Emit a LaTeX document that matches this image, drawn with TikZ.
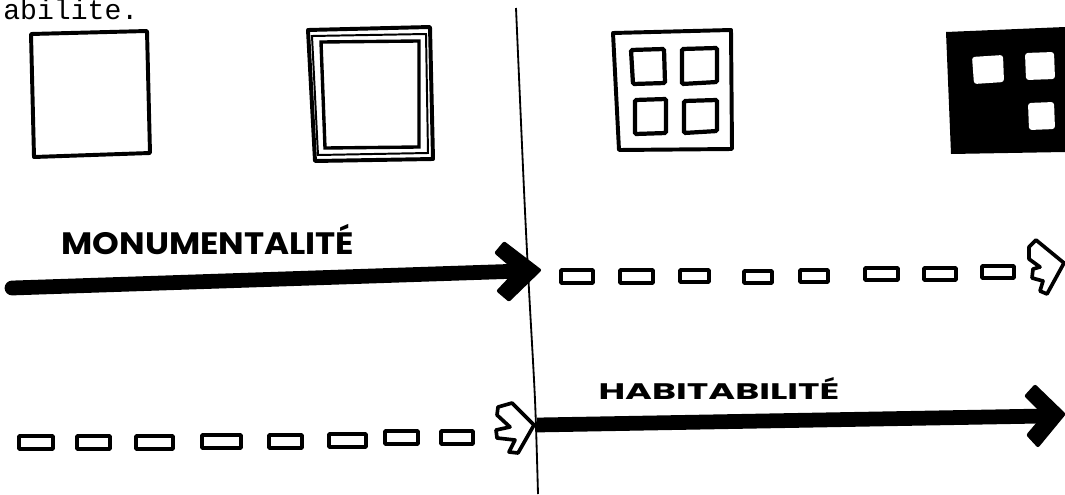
\documentclass[tikz,border=0pt]{standalone}
\usepackage{fontspec}
\usepackage{graphicx}
\newfontfamily\hand{Poppins}
\newfontfamily\typed{Liberation Mono}
\usetikzlibrary{positioning}

\begin{document}
\begin{tikzpicture}[
    x=0.025cm, y=-0.025cm,
    frame/.style={draw, line width=2.8pt, line join=round},
    pane/.style={draw, line width=3pt, rounded corners=1pt},
    divider/.style={draw, line width=1.3pt},
    shaft/.style={line width=10.5pt},
    barb/.style={fill, rounded corners=1.5pt},
    dashbox/.style={draw, line width=2.6pt, rounded corners=0.5pt},
    hollow/.style={draw, line width=2.6pt, line join=round},
    word/.style={anchor=base, inner sep=0pt}
]
    \useasboundingbox (0,0) rectangle (1065,494);

    \node[anchor=base west, inner sep=0pt, font={\typed\fontsize{20}{20}\selectfont}] (cap) at (3,19) {abilite.};

    % windows
    \draw[frame] (31,34) -- (147,31) -- (150,153) -- (34,157) -- cycle;

    \draw[frame] (308,30) -- (430,27) -- (433,159) -- (315,161) -- cycle;
    \draw[line width=1.4pt] (312,36) -- (426,34) -- (428,153) -- (318,155) -- cycle;
    \draw[line width=2.4pt] (321,42) -- (419,41) -- (419,147) -- (325,148) -- cycle;

    \draw[frame] (613,33) -- (731,30) -- (732,149) -- (619,150) -- cycle;
    \draw[pane] (631,50) -- (664,49) -- (665,83) -- (633,84) -- cycle;
    \draw[pane] (682,49) -- (717,48) -- (717,82) -- (682,84) -- cycle;
    \draw[pane] (635,100) -- (666,99) -- (666,133) -- (635,134) -- cycle;
    \draw[pane] (684,101) -- (717,100) -- (717,131) -- (684,133) -- cycle;

    \fill (946,32) -- (1065,27) -- (1065,152) -- (951,154) -- cycle;
    \fill[white, rounded corners=2pt] (972,57) -- (1003,55) -- (1004,82) -- (974,84) -- cycle;
    \fill[white, rounded corners=2pt] (1025,53) -- (1054,52) -- (1055,79) -- (1026,80) -- cycle;
    \fill[white, rounded corners=2pt] (1028,103) -- (1054,102) -- (1055,129) -- (1029,130) -- cycle;

    \draw[divider] plot[smooth] coordinates {(516,8) (524,190) (529,290) (535,400) (538,494)};

    % monumentalite
    \node[word, font={\hand\bfseries\fontsize{22}{22}\selectfont}] (mon) at (208,254) {\scalebox{1.1}[1]{MONUMENTALITÉ}};
    \coordinate (ms) at (12,288);
    \coordinate (me) at (522,271);
    \draw[shaft, line cap=round] (ms) -- (me);
    \fill[barb] (542,270) -- (504,241) -- (494,253) -- (515,271) -- (496,291) -- (509,302) -- cycle;
    \draw[dashbox] (561,270) rectangle (593,283) (620,270) rectangle (653,283) (680,270) rectangle (709,282) (744,271) rectangle (772,283)
        (800,270) rectangle (828,282) (865,268) rectangle (898,280) (924,268) rectangle (956,280) (982,266) rectangle (1014,278);
    \draw[hollow] (1036,240) -- (1064,263) -- (1047,294) -- (1040,291) -- (1043,281) -- (1032,278) -- (1033,269) -- (1040,267) -- (1029,259) -- (1029,247) -- cycle;

    % habitabilite
    \node[word, font={\hand\bfseries\fontsize{16}{16}\selectfont}] (hab) at (719,399) {\scalebox{1.62}[1]{HABITABILITÉ}};
    \draw[dashbox] (19,436) rectangle (53,449) (77,436) rectangle (110,449) (136,436) rectangle (173,449) (202,435) rectangle (241,448)
        (269,435) rectangle (302,448) (329,434) rectangle (366,447) (385,431) rectangle (418,444) (441,431) rectangle (473,444);
    \draw[hollow] (512,403) -- (534,425) -- (518,453) -- (509,452) -- (515,440) -- (497,438) -- (496,430) -- (510,427) -- (497,415) -- (498,407) -- cycle;
    \coordinate (hs) at (537,425);
    \coordinate (he) at (1045,416);
    \draw[shaft] (hs) -- (he);
    \fill[barb] (1066,414) -- (1035,384) -- (1024,396) -- (1043,415) -- (1026,435) -- (1038,448) -- cycle;
\end{tikzpicture}
\end{document}
